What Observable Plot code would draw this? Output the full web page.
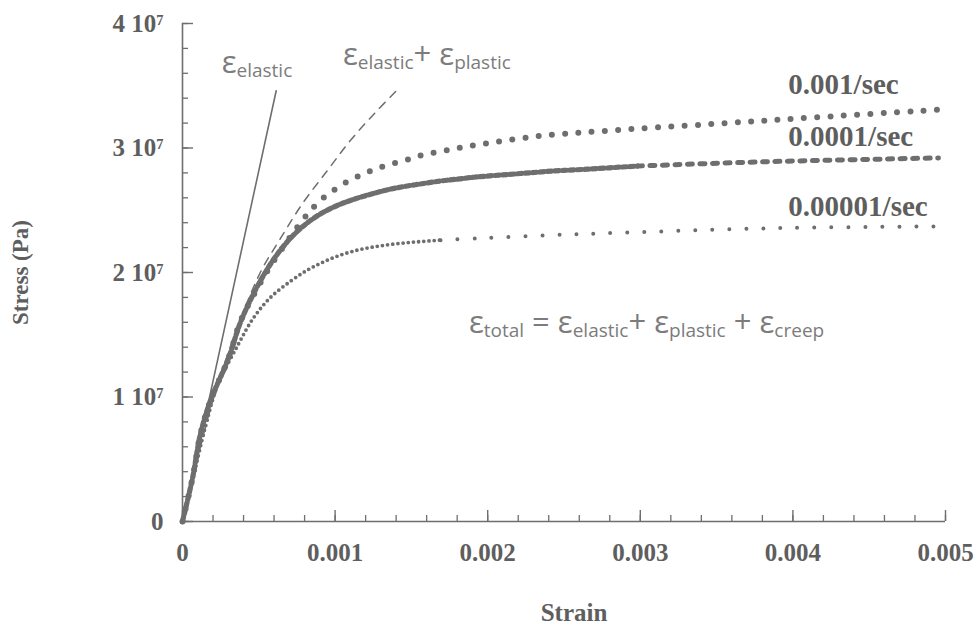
<!DOCTYPE html>
<html><head><meta charset="utf-8">
<script src="https://cdn.jsdelivr.net/npm/d3@7"></script>
<script src="https://cdn.jsdelivr.net/npm/@observablehq/plot@0.6"></script>
<style>
html,body{margin:0;padding:0;background:#fff;}
#chart{width:977px;height:630px;overflow:hidden;}
</style></head><body><div id="chart"></div>
<script>
// ---- data (strain, stress in Pa) ----
const strainRate001 = [0, 0.000066, 0.000118, 0.000183, 0.000301, 0.00038, 0.000485, 0.00055, 0.00063, 0.00072, 0.00082, 0.0009, 0.000996, 0.001081, 0.00118, 0.001265, 0.001363, 0.001468, 0.00156, 0.001743, 0.001907, 0.002294, 0.002739, 0.003499, 0.0042, 0.004987];
const stressRate001 = [0, 0.351e7, 0.705e7, 0.97e7, 1.31e7, 1.61e7, 1.86e7, 2.0e7, 2.15e7, 2.31e7, 2.47e7, 2.575e7, 2.665e7, 2.73e7, 2.79e7, 2.83e7, 2.87e7, 2.905e7, 2.94e7, 2.985e7, 3.02e7, 3.09e7, 3.135e7, 3.195e7, 3.25e7, 3.31e7];

const strainRate0001 = [0, 0.000066, 0.000118, 0.000183, 0.000301, 0.00038, 0.00047, 0.000557, 0.000642, 0.000727, 0.000819, 0.000904, 0.000989, 0.001081, 0.001166, 0.001252, 0.001363, 0.001474, 0.001579, 0.001691, 0.001802, 0.001907, 0.002215, 0.002431, 0.002654, 0.002982, 0.003834, 0.004954];
const stressRate0001 = [0, 0.351e7, 0.705e7, 0.97e7, 1.31e7, 1.60e7, 1.84e7, 2.03e7, 2.18e7, 2.30e7, 2.40e7, 2.47e7, 2.525e7, 2.57e7, 2.605e7, 2.635e7, 2.67e7, 2.695e7, 2.715e7, 2.735e7, 2.75e7, 2.765e7, 2.795e7, 2.815e7, 2.83e7, 2.855e7, 2.89e7, 2.92e7];

const strainRate00001 = [0, 0.00006, 0.00015, 0.000229, 0.00036, 0.000465, 0.000577, 0.000708, 0.000819, 0.000924, 0.001035, 0.001147, 0.001252, 0.001363, 0.001474, 0.001579, 0.001691, 0.001953, 0.002412, 0.00289, 0.003834, 0.004921];
const stressRate00001 = [0, 0.3e7, 0.76e7, 1.09e7, 1.41e7, 1.635e7, 1.80e7, 1.93e7, 2.02e7, 2.085e7, 2.14e7, 2.18e7, 2.205e7, 2.225e7, 2.24e7, 2.25e7, 2.26e7, 2.275e7, 2.30e7, 2.32e7, 2.355e7, 2.37e7];

const strainElastic = [0, 0.000614];
const stressElastic = [0, 3.46e7];

const strainElasticPlastic = [0, 0.0002, 0.00038, 0.00051, 0.00064, 0.00079, 0.00095, 0.0011, 0.00126, 0.00141];
const stressElasticPlastic = [0, 0.98e7, 1.62e7, 2.0e7, 2.27e7, 2.56e7, 2.82e7, 3.06e7, 3.28e7, 3.47e7];

// strain where the sampling of a series changes from dense to sparse
const denseUntil0001 = 0.002982;
const denseUntil00001 = 0.001691;

// rate labels
const rateLabels = ["0.001/sec", "0.0001/sec", "0.00001/sec"];
const rateLabelStrain = [0.00397, 0.00397, 0.00397];
const rateLabelStress = [3.435e7, 3.017e7, 2.455e7];

// equation annotations: [base, subscript] parts
const annElastic = [["ε", "elastic"]];
const annElasticPlastic = [["ε", "elastic"], ["+ ε", "plastic"]];
const annTotal = [["ε", "total"], [" = ε", "elastic"], ["+ ε", "plastic"], [" + ε", "creep"]];
const annStrain = [0.00026, 0.001055, 0.00188];
const annStress = [3.6e7, 3.66e7, 1.51e7];

// axes
const xTicks = [0, 0.001, 0.002, 0.003, 0.004, 0.005];
const xTickLabels = ["0", "0.001", "0.002", "0.003", "0.004", "0.005"];
const xMinorTicks = d3.range(0, 0.00501, 0.0002);
const yTicks = [0, 1e7, 2e7, 3e7, 4e7];
const yTickMantissa = ["0", "1", "2", "3", "4"];
const yMinorTicks = d3.range(0, 4.01e7, 2e6);
const xLabel = "Strain";
const yLabel = "Stress (Pa)";

// ---- build ----
const rows = (xs, ys) => xs.map((x, i) => ({x, y: ys[i]}));
const r001 = rows(strainRate001, stressRate001);
const r0001 = rows(strainRate0001, stressRate0001);
const r00001 = rows(strainRate00001, stressRate00001);
const rEl = rows(strainElastic, stressElastic);
const rEP = rows(strainElasticPlastic, stressElasticPlastic);

const ink = "#6e6e6e";
const textInk = "#5e5e5e";
const annInk = "#7c7c7c";
const serif = "'Liberation Serif', 'Times New Roman', serif";

const plot = Plot.plot({
  width: 977,
  height: 630,
  marginLeft: 182,
  marginRight: 32,
  marginTop: 23,
  marginBottom: 109,
  style: {background: "transparent", fontFamily: serif},
  x: {domain: [0, 0.005], label: null},
  y: {domain: [0, 4e7], label: null},
  marks: [
    // axis lines
    Plot.ruleX([0], {stroke: ink, strokeWidth: 1.6}),
    Plot.ruleY([0], {stroke: ink, strokeWidth: 1.6}),
    // minor + major ticks (inward)
    Plot.axisX(xMinorTicks, {tickSize: -6, text: null, stroke: ink, strokeWidth: 1.3, label: null}),
    Plot.axisX(xTicks, {tickSize: -11, text: null, stroke: ink, strokeWidth: 1.4, label: null}),
    Plot.axisY(yMinorTicks, {tickSize: -6, text: null, stroke: ink, strokeWidth: 1.3, label: null}),
    Plot.axisY(yTicks, {tickSize: -11, text: null, stroke: ink, strokeWidth: 1.4, label: null}),
    // tick labels
    Plot.axisX(xTicks, {tickSize: 0, tickPadding: 22, tickFormat: (d, i) => xTickLabels[i], fontSize: 25, fontWeight: "bold", fill: textInk, label: null}),
    Plot.axisY(yTicks, {tickSize: 0, tickPadding: 19, tickFormat: (d, i) => yTickMantissa[i], fontSize: 25, fontWeight: "bold", fill: textInk, label: null}),
    // axis titles
    Plot.text([xLabel], {frameAnchor: "bottom", dx: 10, dy: 91, text: d => d, textAnchor: "middle", fontSize: 25, fontWeight: "bold", fill: textInk, lineAnchor: "middle"}),
    Plot.text([yLabel], {frameAnchor: "left", dx: -162, text: d => d, textAnchor: "middle", rotate: -90, fontSize: 23, fontWeight: "bold", fill: textInk, lineAnchor: "middle"}),
    // 0.00001/sec: small dots
    Plot.line(r00001.filter(d => d.x <= denseUntil00001), {x: "x", y: "y", curve: "catmull-rom", stroke: ink, strokeWidth: 3.8, strokeLinecap: "round", strokeDasharray: "0,5.2"}),
    Plot.line(r00001.filter(d => d.x >= denseUntil00001), {x: "x", y: "y", curve: "catmull-rom", stroke: ink, strokeWidth: 4, strokeLinecap: "round", strokeDasharray: "0,17"}),
    // 0.0001/sec: squares
    Plot.line(r0001.filter(d => d.x <= denseUntil0001), {x: "x", y: "y", curve: "catmull-rom", stroke: ink, strokeWidth: 5.2, strokeDasharray: "4.5,3"}),
    Plot.line(r0001.filter(d => d.x >= denseUntil0001), {x: "x", y: "y", curve: "catmull-rom", stroke: ink, strokeWidth: 5, strokeDasharray: "5,7.5"}),
    // 0.001/sec: round dots
    Plot.line(r001, {x: "x", y: "y", curve: "catmull-rom", stroke: ink, strokeWidth: 6, strokeLinecap: "round", strokeDasharray: "0,13.3"}),
    // elastic + plastic: dashed
    Plot.line(rEP, {x: "x", y: "y", curve: "catmull-rom", stroke: ink, strokeWidth: 1.5, strokeDasharray: "8,7"}),
    // elastic: solid
    Plot.line(rEl, {x: "x", y: "y", stroke: ink, strokeWidth: 1.6}),
    // rate labels
    Plot.text(rateLabels, {x: (d, i) => rateLabelStrain[i], y: (d, i) => rateLabelStress[i], text: d => d, textAnchor: "start", lineAnchor: "bottom", fontSize: 29, fontWeight: "bold", fill: textInk})
  ]
});

// drop empty labels of the tick-only axes
d3.select(plot).selectAll('g[aria-label="y-axis tick label"] text, g[aria-label="x-axis tick label"] text').each(function() {
  const t = d3.select(this);
  if (t.text() === "") t.remove();
});
// exponent on the y tick labels ("4 10⁷")
d3.select(plot).selectAll('g[aria-label="y-axis tick label"] text').each(function() {
  const t = d3.select(this);
  const m = t.text();
  if (m !== "0") {
    t.text(m + " 10");
    t.append("tspan").attr("dy", "-0.48em").attr("font-size", "0.58em").text("7");
  }
});

// equation annotations with subscripts
const sx = plot.scale("x"), sy = plot.scale("y");
const g = d3.select(plot).append("g").attr("aria-label", "annotations");
function richText(parts, x, y) {
  const t = g.append("text")
    .attr("x", sx.apply(x)).attr("y", sy.apply(y))
    .attr("text-anchor", "start")
    .attr("font-family", "'Open Sans', sans-serif")
    .attr("font-size", 31).attr("fill", annInk)
    .style("white-space", "pre");
  parts.forEach(([base, sub], i) => {
    t.append("tspan").attr("dy", i === 0 ? 0 : -4).text(base);
    t.append("tspan").attr("dy", 4).attr("font-size", 19).text(sub);
  });
}
richText(annElastic, annStrain[0], annStress[0]);
richText(annElasticPlastic, annStrain[1], annStress[1]);
richText(annTotal, annStrain[2], annStress[2]);

document.getElementById("chart").appendChild(plot);
</script></body></html>
